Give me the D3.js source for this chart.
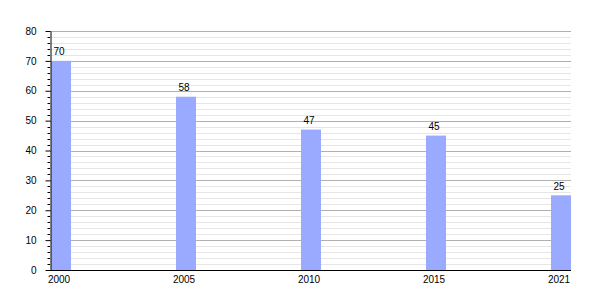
<!DOCTYPE html>
<html><head><meta charset="utf-8">
<script src="https://cdn.jsdelivr.net/npm/d3@7/dist/d3.min.js"></script>
<style>body{margin:0;background:#fff}svg{display:block;font-family:"Liberation Sans",Arial,sans-serif}</style>
</head><body><svg id="c" width="600" height="300"></svg>
<script>
const years = ["2000","2005","2010","2015","2021"];
const values = [70, 58, 47, 45, 25];
const majorTicks = [0,10,20,30,40,50,60,70,80];
const minorTicks = d3.range(0, 81, 2);

(function () {
const svg = d3.select("#c");
const mLeft = 50, mRight = 571, mTop = 31, mBottom = 270;
const barW = 20;
const x = d3.scalePoint().domain(years).range([51, 551]);
const y = d3.scaleLinear().domain([0, 80]).range([mBottom, mTop]);

// minor grid
svg.append("g").selectAll("line").data(minorTicks.filter(d => d % 10 !== 0)).join("line")
  .attr("x1", mLeft).attr("x2", mRight)
  .attr("y1", d => Math.round(y(d)) + 0.5).attr("y2", d => Math.round(y(d)) + 0.5)
  .attr("stroke", "#e6e6e6").attr("stroke-width", 1);
// major grid
svg.append("g").selectAll("line").data(majorTicks.filter(d => d > 0)).join("line")
  .attr("x1", mLeft).attr("x2", mRight)
  .attr("y1", d => Math.round(y(d)) + 0.5).attr("y2", d => Math.round(y(d)) + 0.5)
  .attr("stroke", "#b0b0b0").attr("stroke-width", 1);

// bars
svg.append("g").selectAll("rect").data(values).join("rect")
  .attr("x", (d, i) => x(years[i]))
  .attr("width", barW)
  .attr("y", d => y(d))
  .attr("height", d => y(0) - y(d))
  .attr("fill", "#99aaff");

// value labels
svg.append("g").selectAll("text").data(values).join("text")
  .attr("x", (d, i) => x(years[i]) + barW / 2 - 2)
  .attr("y", d => y(d) - 5.5)
  .attr("text-anchor", "middle")
  .attr("font-size", 10).attr("fill", "#000")
  .text(d => d);

// y axis minor ticks
svg.append("g").selectAll("line").data(minorTicks.filter(d => d % 10 !== 0)).join("line")
  .attr("x1", mLeft - 2.5).attr("x2", mLeft)
  .attr("y1", d => Math.round(y(d)) + 0.5).attr("y2", d => Math.round(y(d)) + 0.5)
  .attr("stroke", "#000");

// y axis with major ticks
const yAxis = svg.append("g").attr("transform", `translate(${mLeft + 0.5},0)`)
  .call(d3.axisLeft(y).tickValues(majorTicks).tickSize(5).tickPadding(9).tickSizeOuter(0));
yAxis.select(".domain").attr("stroke", "#000");
yAxis.selectAll(".tick line").attr("stroke", "#000");
yAxis.selectAll(".tick text").attr("font-size", 10).attr("fill", "#000")
  .attr("font-family", '"Liberation Sans",Arial,sans-serif');

// x axis baseline
svg.append("line").attr("x1", mLeft).attr("x2", mRight)
  .attr("y1", mBottom + 0.5).attr("y2", mBottom + 0.5).attr("stroke", "#000");

// x labels
svg.append("g").selectAll("text").data(years).join("text")
  .attr("x", d => x(d) + barW / 2 - 2)
  .attr("y", 282.5)
  .attr("text-anchor", "middle")
  .attr("font-size", 10).attr("fill", "#000")
  .text(d => d);
})();
</script></body></html>
